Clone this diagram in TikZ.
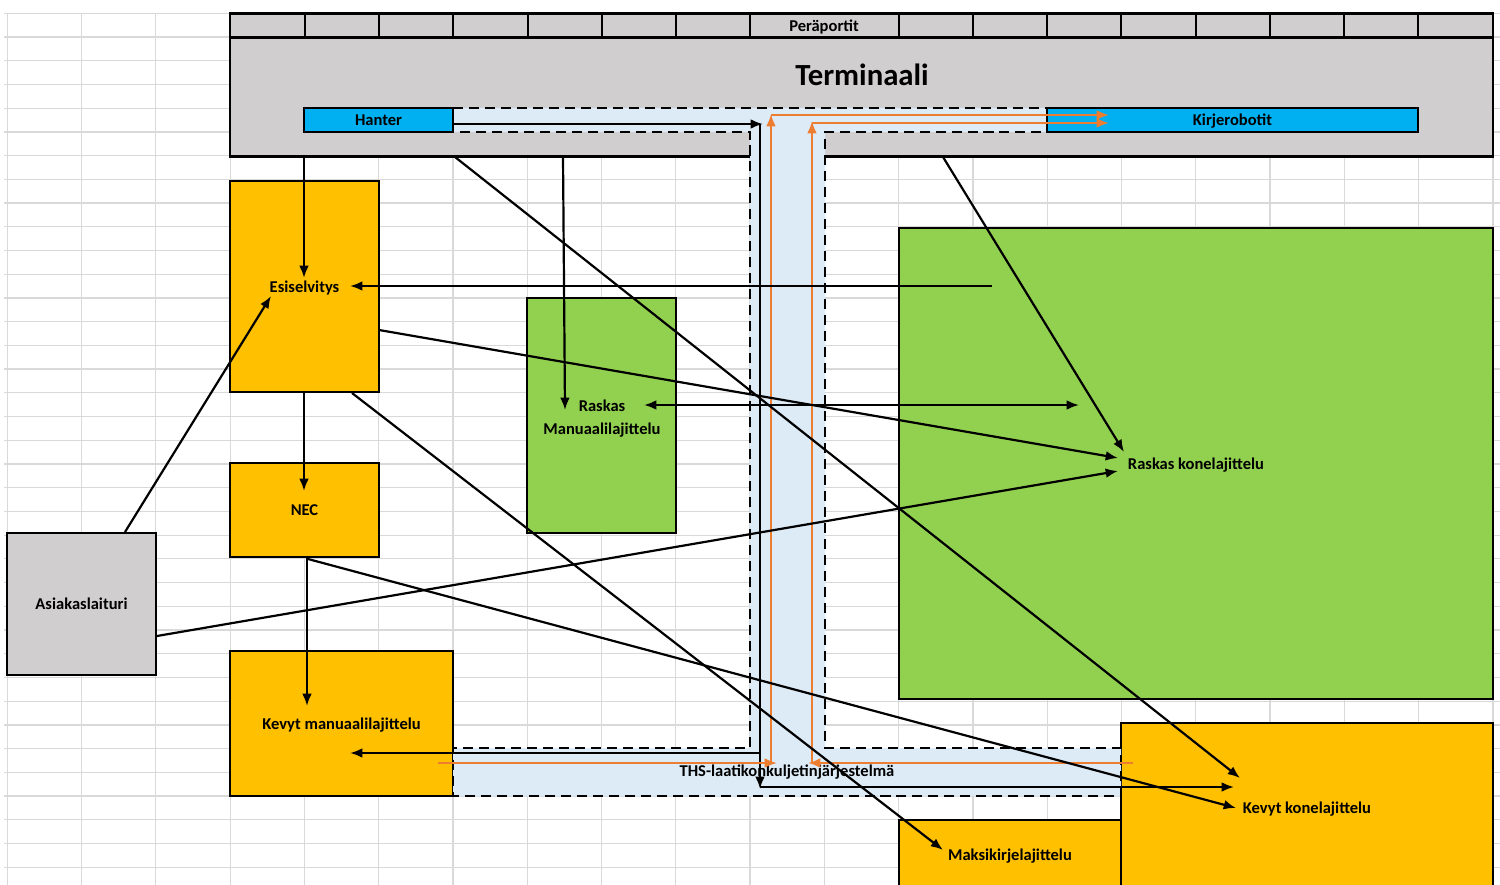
\documentclass[tikz,border=0pt]{standalone}
\usepackage{fontspec}
\setmainfont{Carlito}
\usetikzlibrary{arrows.meta,calc}
\definecolor{gridgray}{HTML}{D9D9D9}
\definecolor{termgray}{HTML}{D0CECE}
\definecolor{ylw}{HTML}{FFC000}
\definecolor{grn}{HTML}{92D050}
\definecolor{blu}{HTML}{00B0F0}
\definecolor{conv}{HTML}{DDEBF7}
\definecolor{orng}{HTML}{ED7D31}
\begin{document}
\begin{tikzpicture}[x=0.02cm,y=-0.02cm,
  cell/.style 2 args={draw=black,line width=1.6pt,inner sep=0pt,outer sep=0pt,
     minimum width=#1*0.02cm,minimum height=#2*0.02cm,
     font=\fontsize{9.4}{13}\selectfont\bfseries,align=center,
     text depth=0pt,text height=6.5pt},
  lbl/.style={inner sep=0pt,font=\fontsize{9.4}{13}\selectfont\bfseries},
  conn/.style={draw=black,line width=1.25pt,-{Latex[length=7pt,width=5.5pt]}},
  oconn/.style={draw=orng,line width=1.2pt,-{Latex[length=7pt,width=5.5pt]}},
  convbelt/.style={draw=black,line width=1.6pt,dash pattern=on 5.7pt off 3.4pt,fill=conv},
  gridline/.style={draw=gridgray,line width=0.7pt}]
\useasboundingbox (0,0) rectangle (1500,885);
\clip (0,0) rectangle (1500,885);
\fill[white] (0,0) rectangle (1500,885);
% spreadsheet grid
\foreach \i in {0,...,20}{\draw[gridline] (7.3+74.28*\i,13.3) -- (7.3+74.28*\i,885);}
\foreach \k in {0,...,36}{\draw[gridline] (4,13.3+23.72*\k) -- (1500,13.3+23.72*\k);}
% terminal
\node[cell={1263}{119},fill=termgray] (term) at (861.5,97.2) {};
\node[cell={1263}{24.4},fill=termgray] (pera) at (861.5,25.5) {};
\foreach \x in {305,379,453,528,602,676,750,899,973,1047,1121,1196,1270,1344,1418}
  {\draw[line width=0.7pt] (\x,13.3) -- (\x,37.7);}
\node[lbl] (peralbl) at (824,27) {Peräportit};
\node[lbl,font=\fontsize{17.5}{20}\selectfont\bfseries] (termlbl) at (862,75) {Terminaali};
% boxes
\node[cell={149}{211},fill=ylw] (esi) at (304.5,286.5) {Esiselvitys};
\node[cell={149}{94},fill=ylw] (nec) at (304.5,510) {NEC};
\node[cell={223}{145},fill=ylw] (kman) at (341.5,723.5) {Kevyt manuaalilajittelu};
\node[cell={149}{142},fill=termgray] (asiak) at (81.5,604) {Asiakaslaituri};
\node[cell={149}{235},fill=grn] (rman) at (601.5,415.5) {};
\node[lbl,align=center] (rmanlbl) at (602,419) {Raskas\\Manuaalilajittelu};
\node[cell={594}{471},fill=grn] (rkone) at (1196,463.5) {Raskas konelajittelu};
\node[cell={372}{170},fill=ylw] (kkone) at (1307,808) {Kevyt konelajittelu};
\node[cell={222}{70},fill=ylw] (maksi) at (1010,855) {Maksikirjelajittelu};
% conveyor
\path[convbelt] (453,108) -- (1047,108) -- (1047,132) -- (825,132) -- (825,748)
  -- (1121,748) -- (1121,796) -- (453,796) -- (453,748) -- (750,748) -- (750,132)
  -- (453,132) -- cycle;
\node[cell={149}{24},fill=blu] (hanter) at (378.5,120) {Hanter};
\node[cell={371}{24},fill=blu] (kirje) at (1232.5,120) {Kirjerobotit};
\node[lbl] (ths) at (787,772) {THS-laatikonkuljetinjärjestelmä};
% coordinates of connector ends
\coordinate (hA) at (453,124);  \coordinate (hB) at (763,124);
\coordinate (vA) at (760,124);  \coordinate (vB) at (760,789);
\coordinate (bA) at (760,787);  \coordinate (bB) at (1234,787);
\coordinate (lA) at (760,753);  \coordinate (lB) at (350,753);
\coordinate (o1a) at (438,763); \coordinate (o1b) at (777,763);
\coordinate (o2a) at (771,763); \coordinate (o2b) at (771,114);
\coordinate (o3a) at (771,115); \coordinate (o3b) at (1109,115);
\coordinate (o4a) at (1133,763); \coordinate (o4b) at (808,763);
\coordinate (o5a) at (812,763); \coordinate (o5b) at (812,121);
\coordinate (o6a) at (812,123); \coordinate (o6b) at (1109,123);
\coordinate (t1) at (304,157);  \coordinate (esiT) at (304,278);
\coordinate (t2) at (563,157);  \coordinate (rmanT) at (565,410);
\coordinate (t3) at (455,157);  \coordinate (kkA) at (1240,778);
\coordinate (t4) at (943,157);  \coordinate (rkA) at (1124,452);
\coordinate (g1) at (992,286);  \coordinate (esiR) at (350,286);
\coordinate (rmanR) at (644,405); \coordinate (g2) at (1079,405);
\coordinate (e1) at (379,330);  \coordinate (rkB) at (1118,458);
\coordinate (a1) at (157,636);  \coordinate (rkC) at (1118,471);
\coordinate (a2) at (125,532);  \coordinate (esiL) at (271,296);
\coordinate (e2) at (304,392);  \coordinate (necT) at (304,491);
\coordinate (n1) at (307,557);  \coordinate (kmanT) at (307,706);
\coordinate (n2) at (308,559);  \coordinate (kkB) at (1236,808);
\coordinate (e3) at (352,393);  \coordinate (maksiT) at (943,850);
% conveyor flows
\draw[conn] (hA) -- (hB);
\draw[conn] (vA) -- (vB);
\draw[conn] (bA) -- (bB);
\draw[conn] (lA) -- (lB);
\draw[oconn] (o1a) -- (o1b);
\draw[oconn] (o2a) -- (o2b);
\draw[oconn] (o3a) -- (o3b);
\draw[oconn] (o4a) -- (o4b);
\draw[oconn] (o5a) -- (o5b);
\draw[oconn] (o6a) -- (o6b);
% connectors
\draw[conn] (t1) -- (esiT);
\draw[conn] (t2) -- (rmanT);
\draw[conn] (t3) -- (kkA);
\draw[conn] (t4) -- (rkA);
\draw[conn] (g1) -- (esiR);
\draw[conn,{Latex[length=7pt,width=5.5pt]}-{Latex[length=7pt,width=5.5pt]}] (rmanR) -- (g2);
\draw[conn] (e1) -- (rkB);
\draw[conn] (a1) -- (rkC);
\draw[conn] (a2) -- (esiL);
\draw[conn] (e2) -- (necT);
\draw[conn] (n1) -- (kmanT);
\draw[conn] (n2) -- (kkB);
\draw[conn] (e3) -- (maksiT);
\end{tikzpicture}
\end{document}
